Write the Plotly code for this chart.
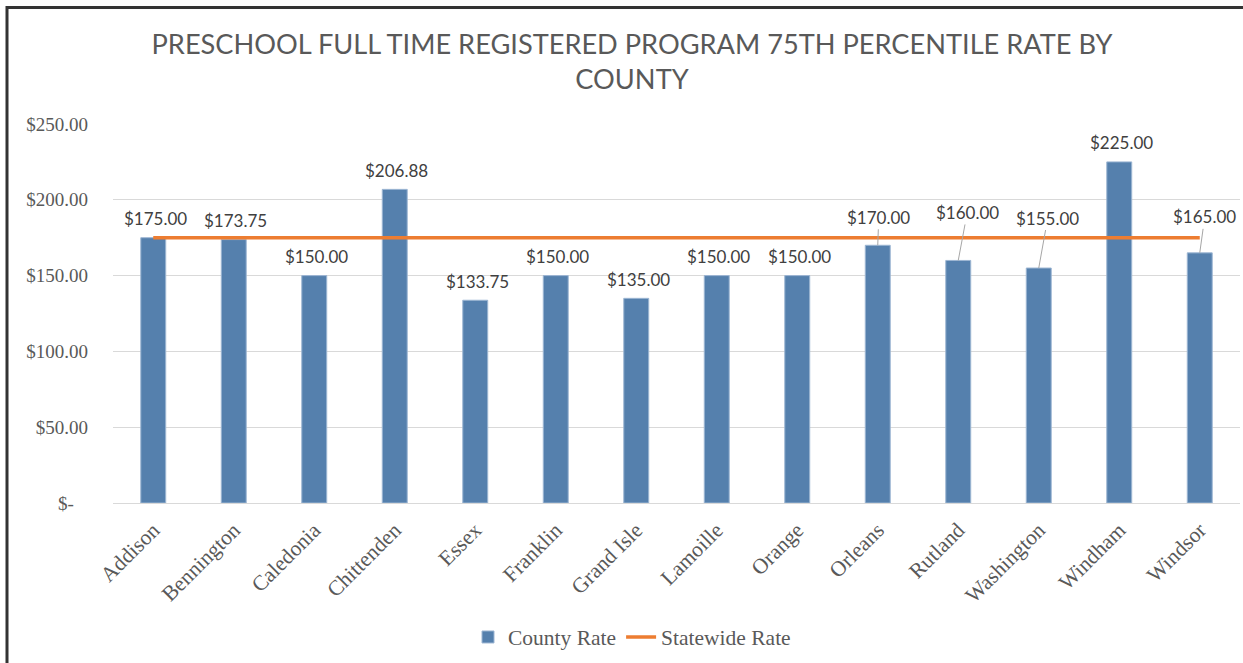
import plotly.graph_objects as go

counties = ["Addison", "Bennington", "Caledonia", "Chittenden", "Essex", "Franklin",
            "Grand Isle", "Lamoille", "Orange", "Orleans", "Rutland", "Washington",
            "Windham", "Windsor"]
county_rate = [175.00, 173.75, 150.00, 206.88, 133.75, 150.00, 135.00, 150.00,
               150.00, 170.00, 160.00, 155.00, 225.00, 165.00]
statewide_rate = [175.00] * len(counties)
label_text = ["$175.00", "$173.75", "$150.00", "$206.88", "$133.75", "$150.00",
              "$135.00", "$150.00", "$150.00", "$170.00", "$160.00", "$155.00",
              "$225.00", "$165.00"]
y_ticks = [0, 50, 100, 150, 200, 250]
y_tick_text = ["$-\u00a0\u00a0\u00a0", "$50.00", "$100.00", "$150.00", "$200.00", "$250.00"]

# label offsets (pixels) for labels moved off the bars with leader lines
leader = {"Orleans": (1, -28), "Rutland": (9, -48), "Washington": (9, -50), "Windsor": (5, -36)}

W, H = 1243, 663
L, R, T, B = 113, 3, 124, 160
pw, ph = W - L - R, H - T - B

def px_x(p):
    return (p - L) / pw

def px_y(p):
    return (H - B - p) / ph

fig = go.Figure()
fig.add_trace(go.Bar(
    x=counties, y=county_rate, name="County Rate",
    marker=dict(color="#5580ad", line=dict(color="#9db6d3", width=1)),
    width=0.31,
))
fig.add_trace(go.Scatter(
    x=counties, y=statewide_rate, name="Statewide Rate", mode="lines",
    line=dict(color="#ed7d31", width=3.5),
))

annotations = []
for c, v, t in zip(counties, county_rate, label_text):
    if c in leader:
        ax, ay = leader[c]
        annotations.append(dict(
            x=c, y=v, xref="x", yref="y", text=t, showarrow=True,
            ax=ax, ay=ay, arrowhead=0, arrowwidth=1, arrowcolor="#a6a6a6",
            standoff=0, startstandoff=0,
            font=dict(family="Lato, Open Sans, sans-serif", size=17, color="#404040"),
        ))
    else:
        annotations.append(dict(
            x=c, y=v, xref="x", yref="y", text=t, showarrow=False,
            xshift=2, yshift=19, yanchor="middle",
            font=dict(family="Lato, Open Sans, sans-serif", size=17, color="#404040"),
        ))

fig.update_layout(
    width=W, height=H,
    margin=dict(l=L, r=R, t=T, b=B),
    paper_bgcolor="white", plot_bgcolor="white",
    title=dict(
        text="PRESCHOOL FULL TIME REGISTERED PROGRAM 75TH PERCENTILE RATE BY<br>COUNTY",
        x=632 / W, xanchor="center", xref="container",
        y=1 - 54 / H, yanchor="top", yref="container",
        font=dict(family="Lato, Open Sans, sans-serif", size=27.2, color="#595959"),
    ),
    showlegend=True,
    legend=dict(
        orientation="h", x=px_x(632), xanchor="center", y=px_y(637), yanchor="middle",
        font=dict(family="Liberation Serif, serif", size=21.5, color="#595959"),
        bgcolor="rgba(0,0,0,0)",
    ),
    xaxis=dict(
        type="category", tickangle=-45, showgrid=False,
        showline=True, linecolor="#d9d9d9", linewidth=1,
        tickfont=dict(family="Liberation Serif, serif", size=21.5, color="#595959"),
        ticklabelstandoff=5,
    ),
    yaxis=dict(
        range=[0, 250], tickvals=y_ticks, ticktext=y_tick_text,
        showgrid=True, gridcolor="#d9d9d9", gridwidth=1, zeroline=False,
        showline=False,
        tickfont=dict(family="Liberation Serif, serif", size=19, color="#595959"),
        ticklabelstandoff=24,
    ),
    annotations=annotations,
    shapes=[dict(
        type="rect", xref="paper", yref="paper",
        x0=px_x(7), x1=px_x(1270), y0=px_y(690), y1=px_y(7.5),
        line=dict(color="#333333", width=3), fillcolor="rgba(0,0,0,0)", layer="above",
    )],
)

fig.write_html("out.html", config={"displayModeBar": False},
               post_script="document.body.style.margin='0';")
